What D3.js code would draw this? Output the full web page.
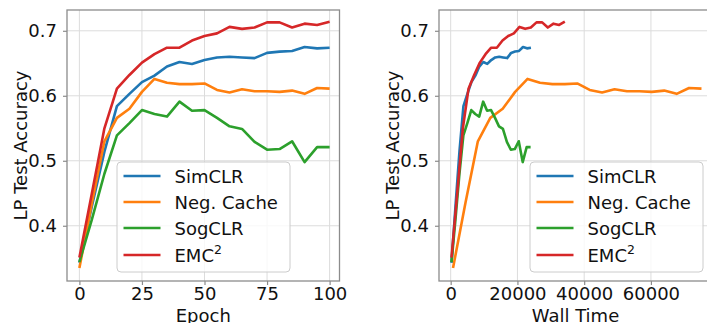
<!DOCTYPE html>
<html>
<head>
<meta charset="utf-8">
<script src="https://cdn.jsdelivr.net/npm/d3@7"></script>
<style>
  body { margin: 0; background: #ffffff; }
  svg { display: block; font-family: "DejaVu Sans", sans-serif; }
</style>
</head>
<body>
<svg id="chart" width="707" height="323"></svg>
<script>
// data
const epochs = [0, 5, 10, 15, 20, 25, 30, 35, 40, 45, 50, 55, 60, 65, 70, 75, 80, 85, 90, 95, 100];

const simclrAcc = [0.343, 0.43, 0.514, 0.584, 0.603, 0.621, 0.631, 0.645, 0.652, 0.649, 0.655,
  0.659, 0.660, 0.659, 0.658, 0.666, 0.668, 0.669, 0.675, 0.673, 0.674];
const negCacheAcc = [0.335, 0.435, 0.530, 0.566, 0.580, 0.606, 0.626, 0.620, 0.618, 0.618, 0.619,
  0.609, 0.605, 0.610, 0.607, 0.607, 0.606, 0.608, 0.603, 0.612, 0.611];
const sogclrAcc = [0.344, 0.41, 0.48, 0.539, 0.558, 0.578, 0.572, 0.568, 0.591, 0.577, 0.578,
  0.566, 0.553, 0.549, 0.529, 0.517, 0.518, 0.530, 0.498, 0.521, 0.521];
const emc2Acc = [0.351, 0.45, 0.55, 0.611, 0.632, 0.651, 0.664, 0.674, 0.674, 0.685, 0.692,
  0.696, 0.706, 0.703, 0.705, 0.713, 0.713, 0.705, 0.711, 0.709, 0.714];

const simclrTime = [250, 1440, 2630, 3820, 5010, 6200, 7390, 8580, 9770, 10960, 12150,
  13340, 14530, 15720, 16910, 18100, 19290, 20480, 21670, 22860, 24050];
const negCacheTime = [700, 4420, 8145, 11870, 15590, 19310, 23035, 26760, 30480, 34200, 37925,
  41650, 45370, 49090, 52815, 56540, 60260, 63980, 67705, 71430, 75150];
const sogclrTime = [250, 1435, 2620, 3805, 4990, 6175, 7360, 8545, 9730, 10915, 12100,
  13285, 14470, 15655, 16840, 18025, 19210, 20395, 21580, 22765, 23950];
const emc2Time = [250, 1950, 3650, 5345, 7040, 8740, 10440, 12135, 13830, 15530, 17230,
  18925, 20620, 22320, 24020, 25715, 27410, 29110, 30810, 32505, 34200];

const epochTicks = [0, 25, 50, 75, 100];
const timeTicks = [0, 20000, 40000, 60000];
const accTicks = [0.4, 0.5, 0.6, 0.7];

const seriesNames = ["SimCLR", "Neg. Cache", "SogCLR", "EMC"];
const seriesColors = ["#1f77b4", "#ff7f0e", "#2ca02c", "#d62728"];

const svg = d3.select("#chart");
const plotTop = 10, plotBottom = 281;
const spineColor = "#8c8c8c";
const gridColor = "#dcdcdc";
const fontSize = "18px";

const y = d3.scaleLinear().domain([0.315, 0.732]).range([plotBottom, plotTop]);

function drawPanel(opts) {
  const x = d3.scaleLinear().domain(opts.domain).range([opts.left, opts.right]);
  const g = svg.append("g");

  // grid
  g.selectAll(".gx").data(opts.ticks).join("line")
    .attr("x1", d => x(d)).attr("x2", d => x(d))
    .attr("y1", plotTop).attr("y2", plotBottom)
    .attr("stroke", gridColor).attr("stroke-width", 1);
  g.selectAll(".gy").data(accTicks).join("line")
    .attr("x1", opts.left).attr("x2", opts.right)
    .attr("y1", d => y(d)).attr("y2", d => y(d))
    .attr("stroke", gridColor).attr("stroke-width", 1);

  // lines
  const line = d3.line().x(d => x(d[0])).y(d => y(d[1]));
  opts.series.forEach(function(s, i) {
    const pts = s.xs.map((v, j) => [v, s.ys[j]]);
    g.append("path").datum(pts)
      .attr("d", line)
      .attr("fill", "none")
      .attr("stroke", seriesColors[i])
      .attr("stroke-width", 2.6)
      .attr("stroke-linejoin", "round");
  });

  // spines
  g.append("rect")
    .attr("x", opts.left).attr("y", plotTop)
    .attr("width", opts.right - opts.left).attr("height", plotBottom - plotTop)
    .attr("fill", "none").attr("stroke", spineColor).attr("stroke-width", 1.3);

  // axes
  const ax = g.append("g").attr("transform", "translate(0," + plotBottom + ")")
    .call(d3.axisBottom(x).tickValues(opts.ticks).tickFormat(d3.format("d")).tickSize(4).tickPadding(2.2));
  const ay = g.append("g").attr("transform", "translate(" + opts.left + ",0)")
    .call(d3.axisLeft(y).tickValues(accTicks).tickFormat(d3.format(".1f")).tickSize(4).tickPadding(6));
  [ax, ay].forEach(function(a) {
    a.select(".domain").remove();
    a.selectAll(".tick line").attr("stroke", spineColor).attr("stroke-width", 1.2);
    a.selectAll(".tick text").attr("fill", "#111").style("font-size", fontSize)
      .style("font-family", '"DejaVu Sans", sans-serif');
  });

  // axis labels
  g.append("text")
    .attr("x", (opts.left + opts.right) / 2 - opts.labelShift).attr("y", 322)
    .attr("text-anchor", "middle").attr("fill", "#111").style("font-size", fontSize)
    .text(opts.xLabel);
  g.append("text")
    .attr("transform", "translate(" + opts.yLabelX + "," + ((plotTop + plotBottom) / 2) + ") rotate(-90)")
    .attr("text-anchor", "middle").attr("fill", "#111").style("font-size", fontSize)
    .text("LP Test Accuracy");

  // legend
  const lg = g.append("g").attr("transform", "translate(" + opts.legendX + ",162)");
  lg.append("rect")
    .attr("width", 173).attr("height", 110).attr("rx", 4)
    .attr("fill", "#ffffff").attr("fill-opacity", 0.8)
    .attr("stroke", "#cccccc").attr("stroke-width", 1);
  seriesNames.forEach(function(name, i) {
    const ry = 14 + i * 26 + (i === 3 ? 1 : 0);
    lg.append("line")
      .attr("x1", 6.5).attr("x2", 43.5).attr("y1", ry).attr("y2", ry)
      .attr("stroke", seriesColors[i]).attr("stroke-width", 2.6);
    const t = lg.append("text")
      .attr("x", 57.5).attr("y", ry + 6.5).attr("fill", "#111").style("font-size", fontSize)
      .text(name);
    if (i === 3) {
      t.append("tspan").attr("dy", -7.5).style("font-size", "12.5px").text("2");
    }
  });
}

drawPanel({
  left: 67, right: 339.5, domain: [-4.95, 103.95], ticks: epochTicks,
  xLabel: "Epoch", labelShift: 0, yLabelX: 26.5, legendX: 117,
  series: [
    { xs: epochs, ys: simclrAcc },
    { xs: epochs, ys: negCacheAcc },
    { xs: epochs, ys: sogclrAcc },
    { xs: epochs, ys: emc2Acc }
  ]
});

drawPanel({
  left: 439, right: 714, domain: [-3500, 78900], ticks: timeTicks,
  xLabel: "Wall Time", labelShift: 1, yLabelX: 398.5, legendX: 530,
  series: [
    { xs: simclrTime, ys: simclrAcc },
    { xs: negCacheTime, ys: negCacheAcc },
    { xs: sogclrTime, ys: sogclrAcc },
    { xs: emc2Time, ys: emc2Acc }
  ]
});
</script>
</body>
</html>
